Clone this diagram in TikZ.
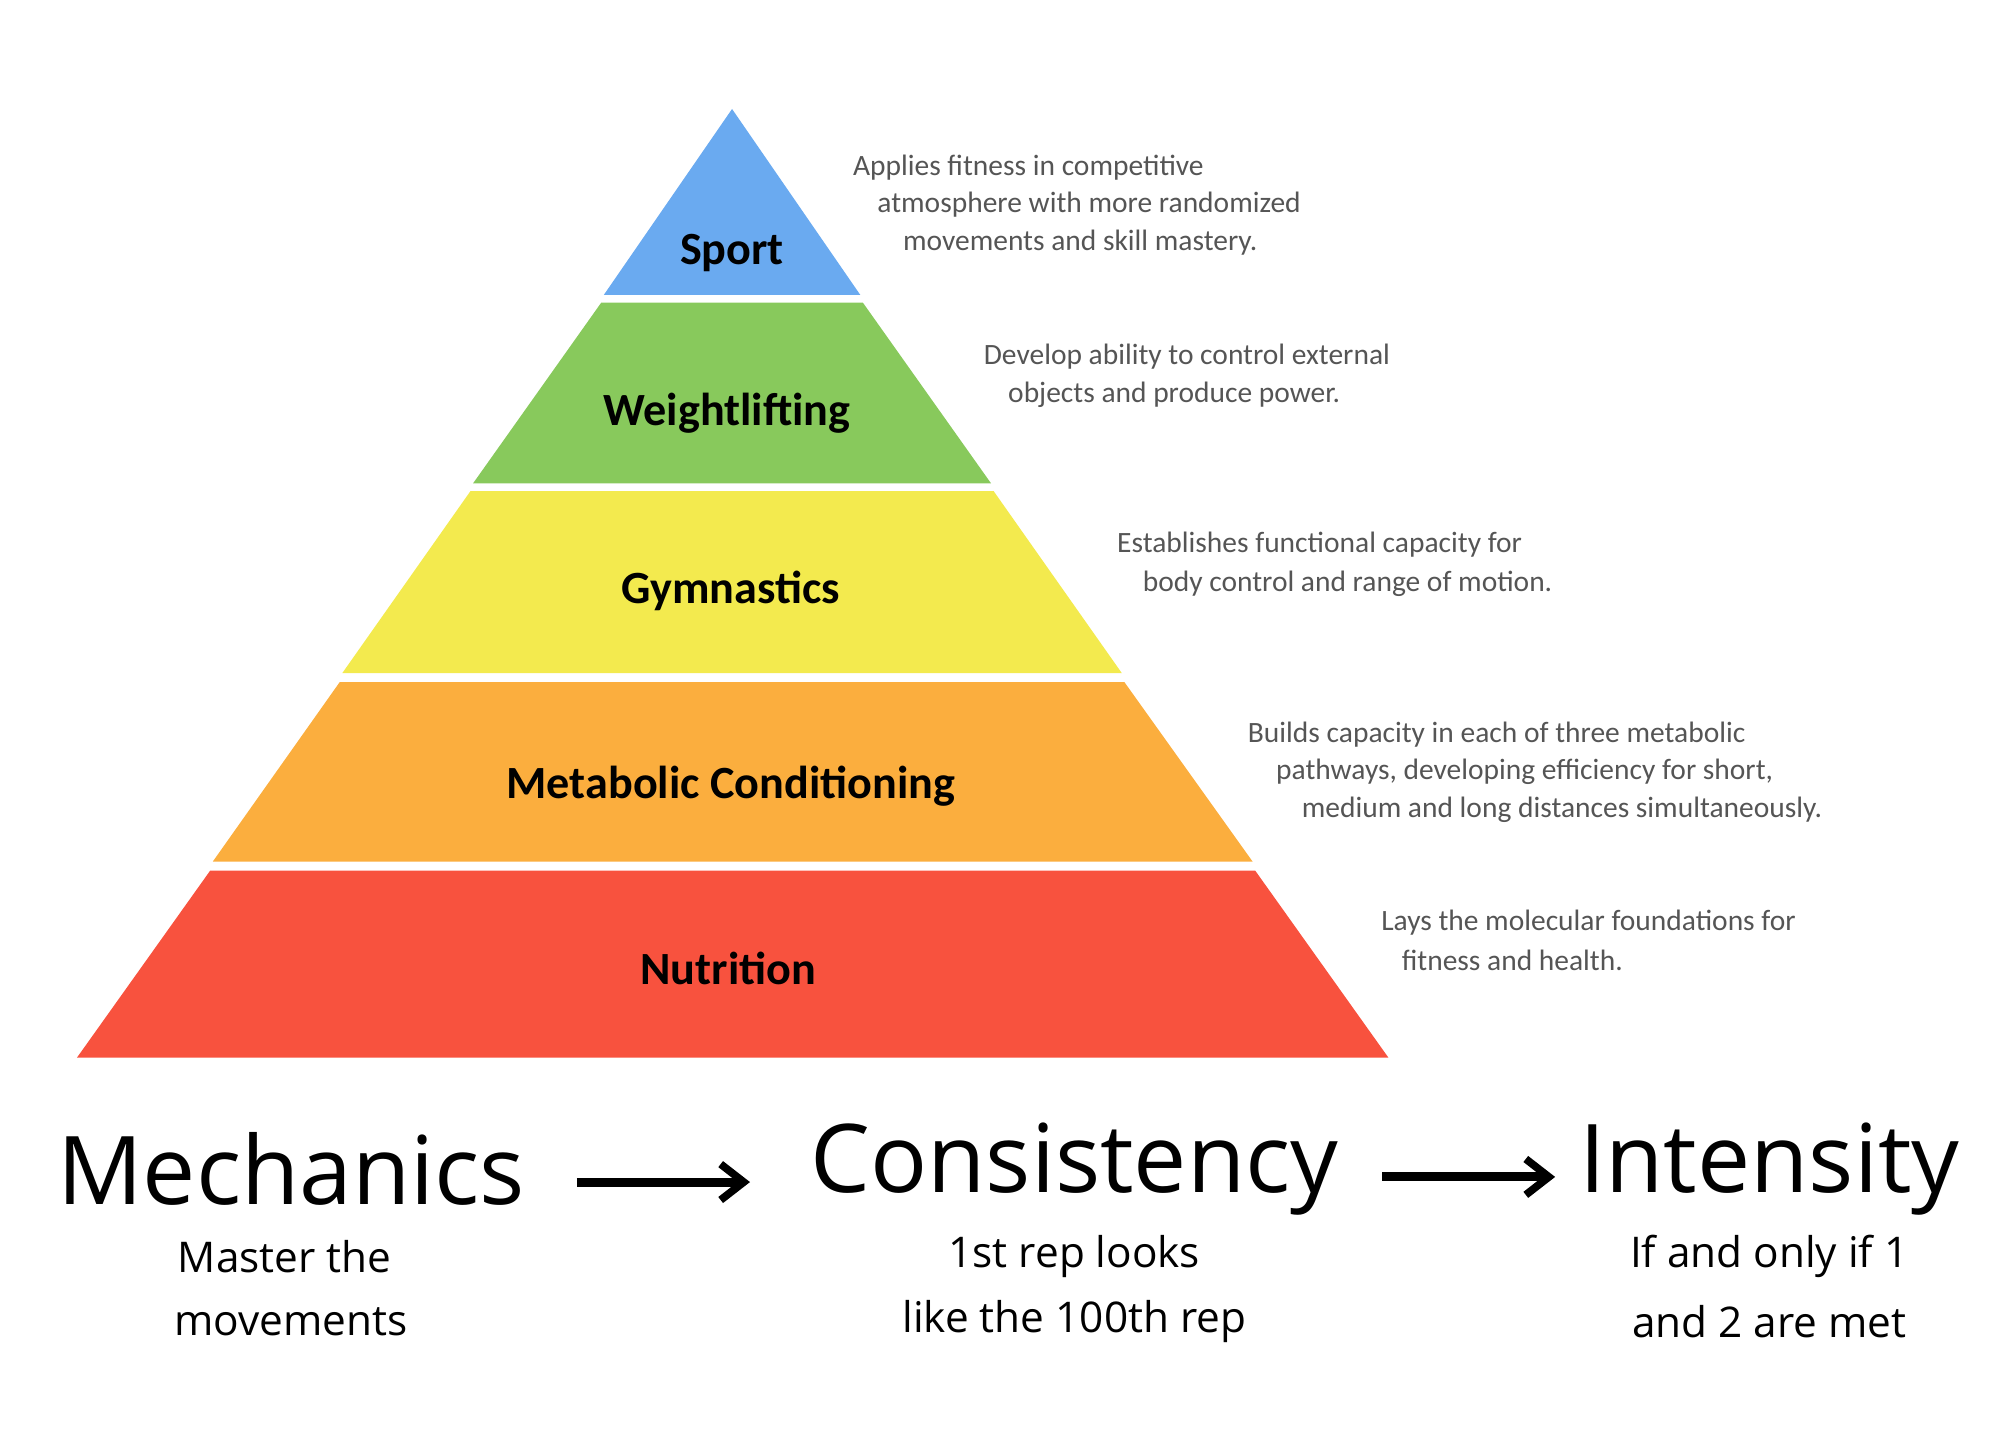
\documentclass[tikz,border=0pt]{standalone}
\usepackage{fontspec}
\setmainfont{Carlito}
\newfontfamily\bottomfont{Open Sans}
\usetikzlibrary{arrows.meta}
\definecolor{csport}{HTML}{6AAAF0}
\definecolor{cwl}{HTML}{88C95C}
\definecolor{cgym}{HTML}{F3EA4E}
\definecolor{cmet}{HTML}{FBAE3E}
\definecolor{cnut}{HTML}{F8523E}
\definecolor{desc}{HTML}{555555}
\begin{document}
\begin{tikzpicture}[x=0.5pt,y=-0.5pt,
  lvl/.style={font=\bfseries\fontsize{18}{20}\selectfont},
  dsc/.style={anchor=west,text=desc,font=\fontsize{11.5}{13}\selectfont,inner sep=0},
  big/.style={font=\bottomfont\fontsize{37}{40}\selectfont},
  sub/.style={font=\bottomfont\fontsize{16.5}{19}\selectfont},
  arr/.style={line width=3.5pt,-{Straight Barb[length=9pt,width=14pt,line width=3pt]}}]
\useasboundingbox (0,0) rectangle (1560,1114);
\fill[cnut] (164,679) -- (979,679) -- (1083,825) -- (60,825) -- cycle;
\fill[cmet] (265,532) -- (877,532) -- (977,672) -- (166,672) -- cycle;
\fill[cgym] (367,383) -- (775,383) -- (875,525) -- (267,525) -- cycle;
\fill[cwl] (469,236) -- (673,236) -- (773,377) -- (369,377) -- cycle;
\fill[csport] (571,85) -- (671,230) -- (471,230) -- cycle;
\node[lvl] (s) at (571,197) {Sport};
\node[lvl] (w) at (567,322) {Weightlifting};
\node[lvl] (g) at (570,461) {Gymnastics};
\node[lvl] (m) at (570,613) {Metabolic Conditioning};
\node[lvl] (n) at (568,755) {Nutrition};
\node[dsc] (d1) at (665,131) {Applies fitness in competitive};
\node[dsc] (d2) at (684,160) {atmosphere with more randomized};
\node[dsc] (d3) at (704,189) {movements and skill mastery.};
\node[dsc] (d4) at (767,278) {Develop ability to control external};
\node[dsc] (d5) at (786,308) {objects and produce power.};
\node[dsc] (d6) at (871,425) {Establishes functional capacity for};
\node[dsc] (d7) at (891,455) {body control and range of motion.};
\node[dsc] (d8) at (973,573) {Builds capacity in each of three metabolic};
\node[dsc] (d9) at (995,602) {pathways, developing efficiency for short,};
\node[dsc] (d10) at (1015,632) {medium and long distances simultaneously.};
\node[dsc] (d11) at (1077,720) {Lays the molecular foundations for};
\node[dsc] (d12) at (1093,749) {fitness and health.};
\node[big] (mech) at (227,912) {Mechanics};
\node[big] (cons) at (838,912) {Consistency};
\node[big] (inte) at (1380,912) {Intensity};
\coordinate (a1) at (450,922); \coordinate (a2) at (585,922);
\coordinate (a3) at (1078,918); \coordinate (a4) at (1213,918);
\draw[arr] (a1) -- (a2);
\draw[arr] (a3) -- (a4);
\node[sub] (m1) at (222,980) {Master the};
\node[sub] (m2) at (227,1031) {movements};
\node[sub] (c1) at (838,980) {1st rep looks};
\node[sub] (c2) at (838,1031) {like the 100th rep};
\node[sub] (i1) at (1380,980) {If and only if 1};
\node[sub] (i2) at (1380,1031) {and 2 are met};
\end{tikzpicture}
\end{document}
